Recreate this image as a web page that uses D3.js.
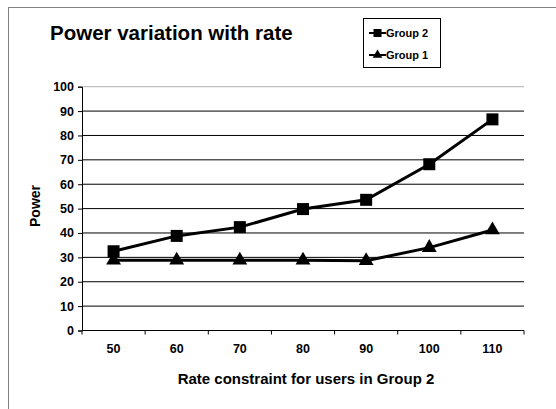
<!DOCTYPE html>
<html>
<head>
<meta charset="utf-8">
<script src="https://cdn.jsdelivr.net/npm/d3@7"></script>
<style>
  body { margin: 0; background: #fff; }
  text { font-family: Arial, "Liberation Sans", sans-serif; font-weight: bold; }
</style>
</head>
<body>
<script>
const rates = ["50", "60", "70", "80", "90", "100", "110"];
const group2 = [32.5, 38.8, 42.4, 49.8, 53.6, 68.2, 86.6];
const group1 = [28.8, 28.8, 28.8, 28.8, 28.6, 34.0, 41.2];
const yTicks = [0, 10, 20, 30, 40, 50, 60, 70, 80, 90, 100];

const w = 556;
const h = 409;

const svg = d3.select("body")
  .append("svg")
  .attr("width", w)
  .attr("height", h);

// outer chart frame, runs off the right and bottom edges
svg.append("rect")
  .attr("x", 8.5)
  .attr("y", 7.5)
  .attr("width", 600)
  .attr("height", 450)
  .attr("fill", "none")
  .attr("stroke", "#808080")
  .attr("stroke-width", 1);

const xScale = d3.scaleBand()
  .domain(rates)
  .range([82, 524]);

const yScale = d3.scaleLinear()
  .domain([0, 100])
  .range([330.5, 86.7]);

// gridlines
svg.append("g")
  .selectAll("line")
  .data(yTicks.slice(1))
  .enter()
  .append("line")
  .attr("x1", 82)
  .attr("x2", 524)
  .attr("y1", d => yScale(d))
  .attr("y2", d => yScale(d))
  .attr("stroke", d => d === 100 ? "#b0b0b0" : "#000")
  .attr("stroke-width", 1);

const yAxis = d3.axisLeft(yScale).tickValues(yTicks).tickSize(4).tickPadding(4);
const xAxis = d3.axisBottom(xScale).tickSize(0).tickPadding(14);

const gy = svg.append("g")
  .attr("transform", "translate(82,0)")
  .call(yAxis);
gy.select(".domain").attr("stroke", "#000");
gy.selectAll("text").style("font-size", "12.5px").attr("fill", "#000");

const gx = svg.append("g")
  .attr("transform", "translate(0," + yScale(0) + ")")
  .call(xAxis);
gx.select(".domain").attr("d", "M82,0H524");
gx.selectAll("text").style("font-size", "12.5px").attr("fill", "#000");

// tick marks at the category boundaries
gx.selectAll(".bound")
  .data(rates.concat([null]))
  .enter()
  .append("line")
  .attr("x1", (d, i) => xScale.range()[0] + i * xScale.bandwidth())
  .attr("x2", (d, i) => xScale.range()[0] + i * xScale.bandwidth())
  .attr("y1", 0)
  .attr("y2", 4)
  .attr("stroke", "#000");

const cx = d => xScale(d) + xScale.bandwidth() / 2;

const line = d3.line()
  .x((d, i) => cx(rates[i]))
  .y(d => yScale(d));

svg.append("path")
  .datum(group1)
  .attr("d", line)
  .attr("fill", "none")
  .attr("stroke", "#000")
  .attr("stroke-width", 3);

svg.append("path")
  .datum(group2)
  .attr("d", line)
  .attr("fill", "none")
  .attr("stroke", "#000")
  .attr("stroke-width", 3);

const tri = d3.symbol().type(d3.symbolTriangle).size(95);

svg.append("g")
  .selectAll("path")
  .data(group1)
  .enter()
  .append("path")
  .attr("d", tri)
  .attr("transform", (d, i) => "translate(" + cx(rates[i]) + "," + yScale(d) + ")")
  .attr("fill", "#000");

svg.append("g")
  .selectAll("rect")
  .data(group2)
  .enter()
  .append("rect")
  .attr("x", (d, i) => cx(rates[i]) - 6)
  .attr("y", d => yScale(d) - 6)
  .attr("width", 12)
  .attr("height", 12)
  .attr("fill", "#000");

// titles
svg.append("text")
  .attr("x", 50)
  .attr("y", 40)
  .text("Power variation with rate")
  .style("font-size", "20.5px");

svg.append("text")
  .attr("x", 306)
  .attr("y", 384)
  .attr("text-anchor", "middle")
  .text("Rate constraint for users in Group 2")
  .style("font-size", "15px");

svg.append("text")
  .attr("transform", "rotate(-90)")
  .attr("x", -206)
  .attr("y", 40)
  .attr("text-anchor", "middle")
  .text("Power")
  .style("font-size", "14px");

// legend
const legend = svg.append("g")
  .attr("id", "legend")
  .attr("transform", "translate(363,18)");

legend.append("rect")
  .attr("x", 0.5)
  .attr("y", 0.5)
  .attr("width", 77)
  .attr("height", 49)
  .attr("fill", "#fff")
  .attr("stroke", "#000");

const items = [["Group 2", "square"], ["Group 1", "triangle"]];
items.forEach((it, i) => {
  const y = 15 + i * 22;
  legend.append("line")
    .attr("x1", 6).attr("x2", 23)
    .attr("y1", y).attr("y2", y)
    .attr("stroke", "#000").attr("stroke-width", 2);
  if (it[1] === "square") {
    legend.append("rect").attr("x", 10.5).attr("y", y - 4).attr("width", 8).attr("height", 8).attr("fill", "#000");
  } else {
    legend.append("path").attr("d", d3.symbol().type(d3.symbolTriangle).size(40))
      .attr("transform", "translate(14.5," + y + ")").attr("fill", "#000");
  }
  legend.append("text")
    .attr("x", 23)
    .attr("y", y + 4)
    .text(it[0])
    .style("font-size", "11px");
});
</script>
</body>
</html>
